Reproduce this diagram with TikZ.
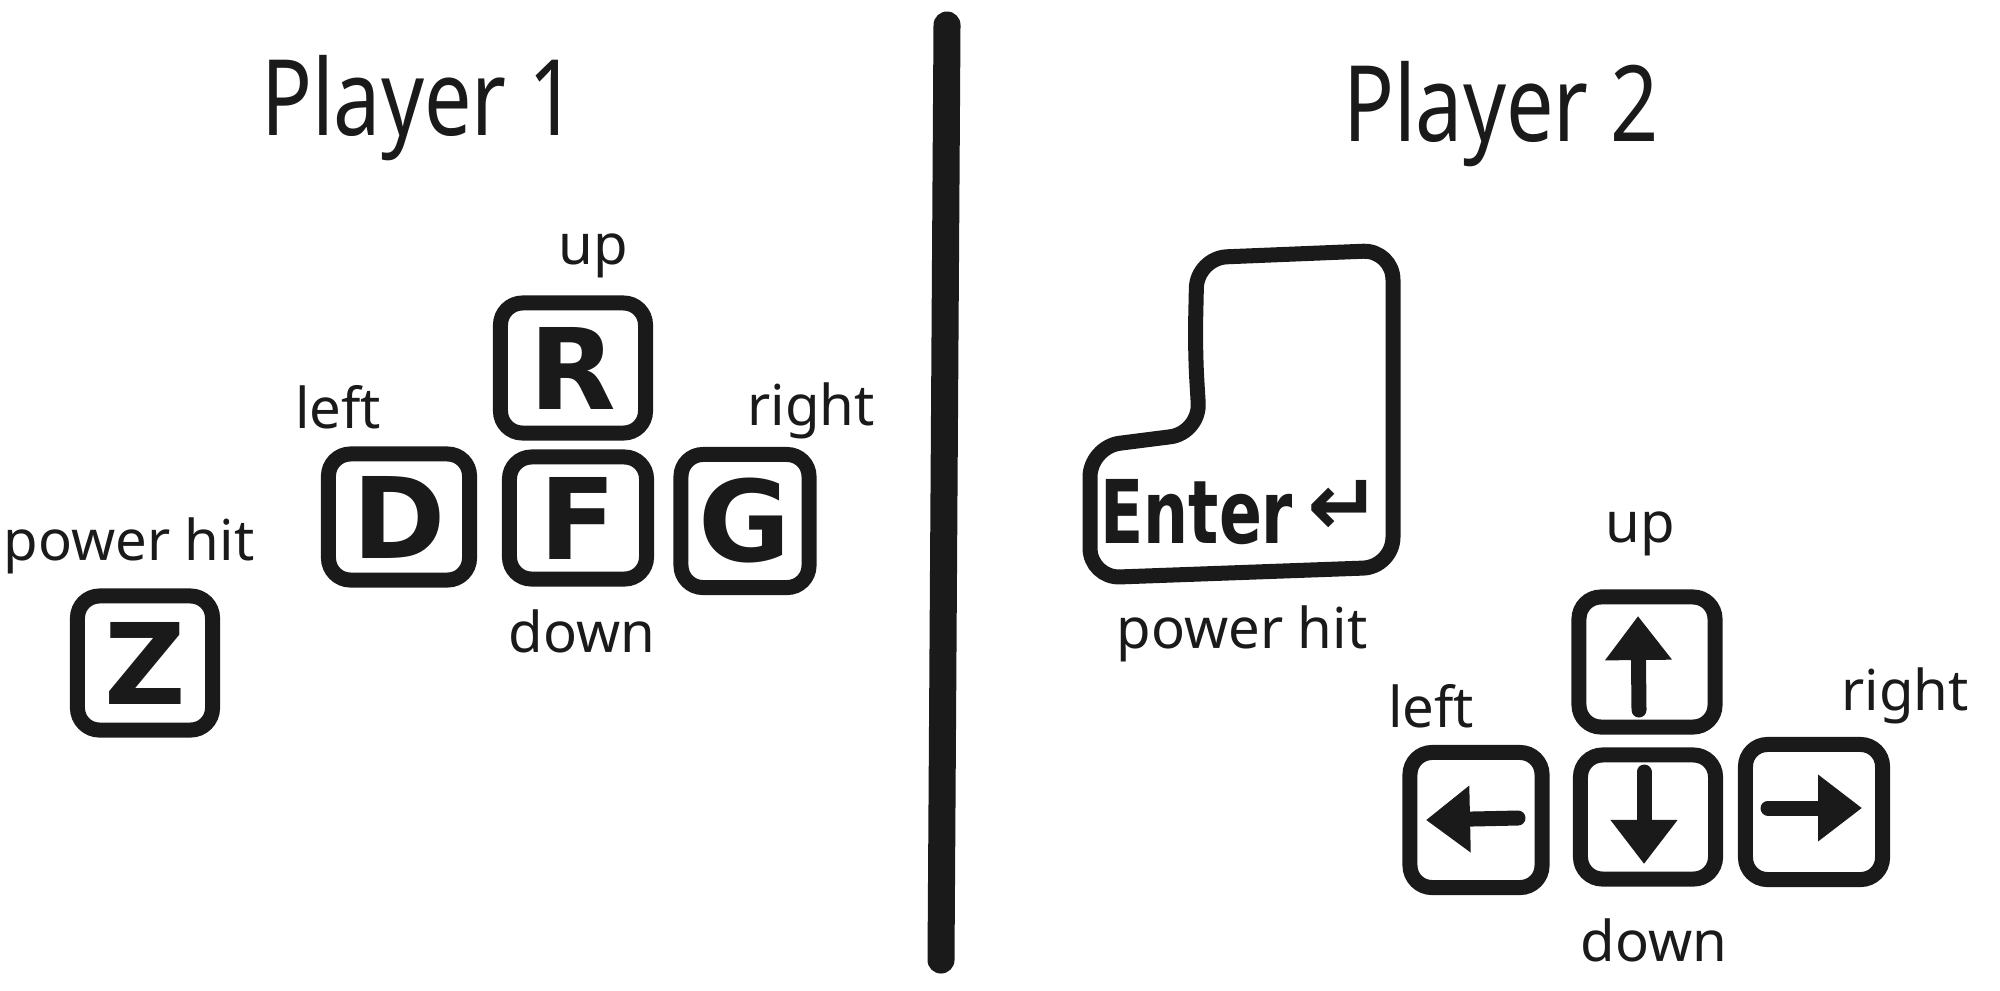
\documentclass[tikz,border=0pt]{standalone}
\usepackage{fontspec}
\usepackage{graphicx}
\setmainfont{Noto Sans}
\newfontfamily\symfont{DejaVu Sans}
\newfontfamily\keyfont{DejaVu Sans}
\usetikzlibrary{arrows.meta,calc}
\definecolor{ink}{RGB}{26,26,26}
\begin{document}
\begin{tikzpicture}[x=0.01cm,y=-0.01cm,
  key/.style={draw=ink, line width=0.15cm, rounded corners=0.22cm, inner sep=0pt,
    font=\keyfont\bfseries\fontsize{32}{32}\selectfont, text=ink},
  lbl/.style={font=\fontsize{16}{16}\selectfont, text=ink, anchor=base, inner sep=0pt},
  titletxt/.style={font=\fontsize{30}{30}\selectfont, text=ink, anchor=base, inner sep=0pt},
  keyarrow/.style={draw=ink, line width=0.15cm, line cap=round,
    -{Triangle[length=0.44cm,width=0.64cm]}},
  divider/.style={draw=ink, line width=0.27cm, line cap=round},
  bigkey/.style={draw=ink, line width=0.15cm, rounded corners=0.3cm}]
\useasboundingbox (0,0) rectangle (2000,990);

% divider
\coordinate (dtop) at (947,25);
\coordinate (dbot) at (941,960);
\draw[divider] (dtop) -- (dbot);

% Player 1
\node[titletxt] (t1) at (419,135) {\scalebox{0.8}[1]{Player 1}};
\node[key, minimum width=1.45cm, minimum height=1.30cm] (kR) at (573,368) {R};
\node[key, minimum width=1.41cm, minimum height=1.26cm] (kD) at (399,517) {D};
\node[key, minimum width=1.37cm, minimum height=1.22cm] (kF) at (578,518) {F};
\node[key, minimum width=1.28cm, minimum height=1.33cm] (kG) at (745,521) {G};
\node[key, minimum width=1.35cm, minimum height=1.34cm] (kZ) at (145,663) {Z};
\node[lbl] (l1up) at (593,264) {up};
\node[lbl] (l1left) at (338,428) {left};
\node[lbl] (l1right) at (811,425) {right};
\node[lbl] (l1down) at (582,652) {down};
\node[lbl] (l1pow) at (129,560) {power hit};

% Player 2
\node[titletxt] (t2) at (1501,141) {\scalebox{0.8}[1]{Player 2}};
\draw[bigkey] (1195,350) -- (1197,258) -- (1393,250) -- (1393,567) -- (1090,578)
  -- (1090,447) -- (1200,433) -- cycle;
\node[font=\keyfont\bfseries\fontsize{25}{25}\selectfont, text=ink, anchor=base, inner sep=0pt]
  (entertxt) at (1241,543) {\scalebox{0.72}[1]{Enter}\,\raisebox{0.08cm}{\symfont\bfseries ↵}};
\node[lbl] (l2pow) at (1242,648) {power hit};

\node[key, minimum width=1.36cm, minimum height=1.30cm] (kup) at (1647,662) {};
\node[key, minimum width=1.32cm, minimum height=1.35cm] (kleft) at (1476,820) {};
\node[key, minimum width=1.35cm, minimum height=1.24cm] (kdown) at (1648,817) {};
\node[key, minimum width=1.37cm, minimum height=1.35cm] (kright) at (1814,812) {};
\draw[keyarrow] ($(kup)+(-8,48)$) -- ($(kup)+(-9,-46)$);
\draw[keyarrow] ($(kleft)+(42,-2)$) -- ($(kleft)+(-50,0)$);
\draw[keyarrow] ($(kright)+(-46,-4)$) -- ($(kright)+(48,-4)$);
\draw[keyarrow] ($(kdown)+(-4,-45)$) -- ($(kdown)+(-4,47)$);

\node[lbl] (l2up) at (1640,542) {up};
\node[lbl] (l2left) at (1431,727) {left};
\node[lbl] (l2right) at (1905,710) {right};
\node[lbl] (l2down) at (1654,961) {down};
\end{tikzpicture}
\end{document}
